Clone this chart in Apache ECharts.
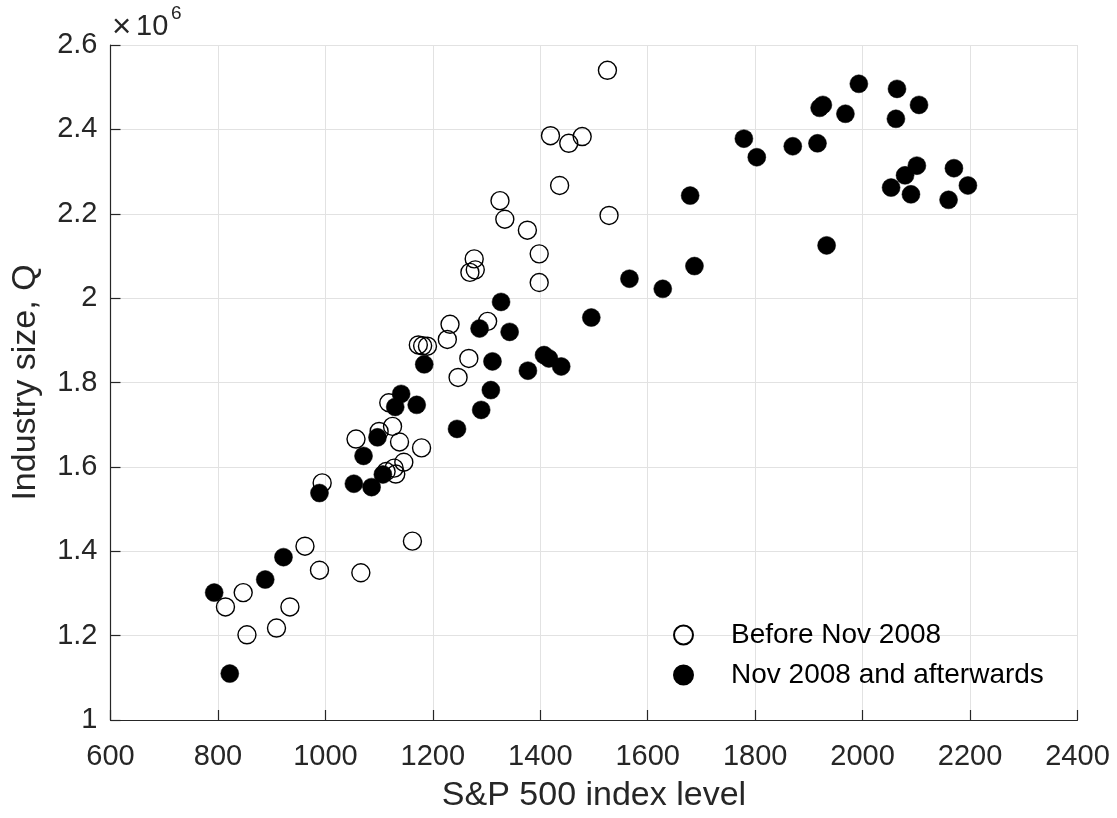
<!DOCTYPE html>
<html>
<head>
<meta charset="utf-8">
<script src="https://cdn.jsdelivr.net/npm/echarts@6/dist/echarts.min.js"></script>
<style>
html,body{margin:0;padding:0;background:#fff;}
#chart{width:1117px;height:818px;}
</style>
</head>
<body>
<div id="chart"></div>
<script>
// S&P 500 index level (x) vs industry size Q (y, units of 10^6)
const beforeX = [1525,1419,1453,1478,1436,1528,1325,1334,1376,1398,1398,1277,1269,1279,1232,1227,1302,1267,1247,1173,1181,1190,1118,1125,1100,1057,1138,1179,1146,1128,1113,1131,994,1162,962,989,1066,847,814,934,909,854];
const beforeY = [2.540,2.385,2.367,2.383,2.267,2.196,2.231,2.187,2.161,2.105,2.037,2.093,2.061,2.067,1.938,1.902,1.945,1.857,1.812,1.889,1.887,1.886,1.752,1.696,1.684,1.666,1.659,1.645,1.611,1.597,1.589,1.583,1.562,1.424,1.412,1.355,1.349,1.302,1.268,1.268,1.218,1.202];
const afterX = [1184,1287,1141,1130,1170,1245,1097,1071,1107,1053,1086,989,1327,1495,1343,1311,1407,1416,1439,1377,1308,1290,922,888,793,822,1566,1628,1687,1679,1933,1779,1803,1870,1916,1920,1926,1968,1993,2064,2105,2062,2101,2079,2053,2090,2170,2196,2160];
const afterY = [1.843,1.928,1.773,1.742,1.747,1.690,1.670,1.626,1.582,1.560,1.552,1.538,1.991,1.954,1.920,1.850,1.865,1.857,1.838,1.828,1.782,1.735,1.386,1.333,1.302,1.110,2.046,2.022,2.076,2.243,2.125,2.378,2.334,2.360,2.367,2.451,2.458,2.437,2.508,2.496,2.458,2.425,2.314,2.291,2.262,2.246,2.308,2.267,2.233];
const seriesNames = ['Before Nov 2008','Nov 2008 and afterwards'];
const xTicks = {min:600, max:2400, interval:200};
const yTicks = {min:1.0, max:2.6, interval:0.2};
const yScale = 1e6;

const FONT = '"Liberation Sans", Arial, Helvetica, sans-serif';
const AX = '#262626';

const toPairs = (xs, ys) => xs.map((x,i)=>[x, ys[i]*yScale]);

const chart = echarts.init(document.getElementById('chart'), null, {renderer:'canvas'});
chart.setOption({
  animation:false,
  backgroundColor:'#fff',
  grid:{left:110.5, top:45, right:39.5, bottom:92, containLabel:false},
  xAxis:{
    type:'value', min:xTicks.min, max:xTicks.max, interval:xTicks.interval,
    name:'S&P 500 index level', nameLocation:'middle', nameGap:59,
    nameTextStyle:{fontFamily:FONT, fontSize:34, color:AX},
    axisLine:{show:true, onZero:false, lineStyle:{color:AX, width:1.2}},
    axisTick:{show:true, inside:true, length:10, lineStyle:{color:AX, width:1.2}},
    axisLabel:{fontFamily:FONT, fontSize:29, color:AX, margin:22, formatter:(v)=>String(v)},
    splitLine:{show:true, lineStyle:{color:'#e2e2e2', width:1}}
  },
  yAxis:{
    type:'value', min:yTicks.min*yScale, max:yTicks.max*yScale, interval:yTicks.interval*yScale,
    name:'Industry size, Q', nameLocation:'middle', nameGap:68,
    nameTextStyle:{fontFamily:FONT, fontSize:34, color:AX},
    axisLine:{show:true, onZero:false, lineStyle:{color:AX, width:1.2}},
    axisTick:{show:true, inside:true, length:10, lineStyle:{color:AX, width:1.2}},
    axisLabel:{fontFamily:FONT, fontSize:29, color:AX, margin:13,
      formatter:(v)=>{ const r = Math.round(v/yScale*10)/10; return (r%1===0)? String(r) : r.toFixed(1); }},
    splitLine:{show:true, lineStyle:{color:'#e2e2e2', width:1}}
  },
  legend:{
    orient:'vertical', left:668, top:615, itemWidth:19, itemHeight:19, itemGap:10,
    icon:'circle',
    textStyle:{fontFamily:FONT, fontSize:28, color:'#000', lineHeight:30, padding:[0,0,0,33]},
    data:[seriesNames[0], seriesNames[1]]
  },
  graphic:[
    {type:'text', x:112, y:28, silent:true,
     style:{text:'×', fontSize:33, fontFamily:FONT, fill:AX, verticalAlign:'middle', align:'left'}},
    {type:'text', x:136, y:27, silent:true,
     style:{text:'10', fontSize:29, fontFamily:FONT, fill:AX, verticalAlign:'middle', align:'left'}},
    {type:'text', x:171, y:13.5, silent:true,
     style:{text:'6', fontSize:19, fontFamily:FONT, fill:AX, verticalAlign:'middle', align:'left'}}
  ],
  series:[
    {name:seriesNames[1], type:'scatter', symbol:'circle', symbolSize:18, z:2,
     itemStyle:{color:'#000', borderColor:'#000', borderWidth:0.5, opacity:1},
     data:toPairs(afterX, afterY)},
    {name:seriesNames[0], type:'scatter', symbol:'circle', symbolSize:18, z:3,
     itemStyle:{color:'rgba(255,255,255,0)', borderColor:'#000', borderWidth:1.4, opacity:1},
     data:toPairs(beforeX, beforeY)}
  ]
});
</script>
</body>
</html>
